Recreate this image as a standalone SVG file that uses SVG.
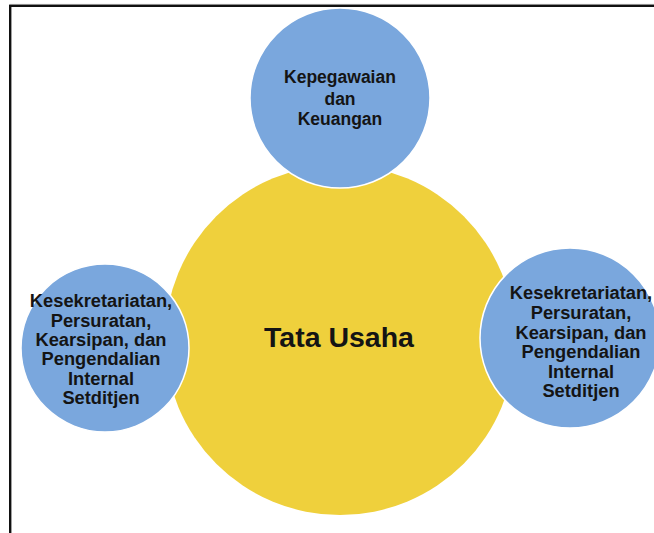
<svg xmlns="http://www.w3.org/2000/svg" width="654" height="533" viewBox="0 0 654 533">
<style>
.sub{fill:#7AA7DD;stroke:#FFFFFF;stroke-width:1.5}
.main{fill:#EFD03C}
.t{font-family:"Liberation Sans",Arial,sans-serif;font-weight:bold;fill:#141414;text-anchor:middle}
</style>
<rect x="0" y="0" width="654" height="533" fill="#FFFFFF"/>
<line x1="10" y1="4.3" x2="654" y2="4.3" stroke="#DDDDDD" stroke-width="1"/>
<rect x="10.2" y="5.8" width="660" height="540" fill="none" stroke="#111111" stroke-width="2.4"/>
<g id="connectors"></g>
<g id="tata-usaha">
<circle class="main" cx="340" cy="340" r="175"/>
<text class="t" x="339" y="346.5" font-size="28.5">Tata Usaha</text>
</g>
<g id="kepegawaian">
<circle class="sub" cx="340" cy="98" r="90"/>
<text class="t" font-size="17.5"><tspan x="340" y="83">Kepegawaian</tspan><tspan x="340" y="104.5">dan</tspan><tspan x="340" y="125">Keuangan</tspan></text>
</g>
<g id="kesekretariatan-kiri">
<circle class="sub" cx="105" cy="348" r="84"/>
<text class="t" font-size="18.3"><tspan x="101" y="307">Kesekretariatan,</tspan><tspan x="101" y="326.5">Persuratan,</tspan><tspan x="101" y="346">Kearsipan, dan</tspan><tspan x="101" y="365">Pengendalian</tspan><tspan x="101" y="384.5">Internal</tspan><tspan x="101" y="404">Setditjen</tspan></text>
</g>
<g id="kesekretariatan-kanan">
<circle class="sub" cx="570" cy="338" r="90"/>
<text class="t" font-size="18.3"><tspan x="581" y="299">Kesekretariatan,</tspan><tspan x="581" y="319">Persuratan,</tspan><tspan x="581" y="339">Kearsipan, dan</tspan><tspan x="581" y="358">Pengendalian</tspan><tspan x="581" y="378">Internal</tspan><tspan x="581" y="397">Setditjen</tspan></text>
</g>
</svg>
